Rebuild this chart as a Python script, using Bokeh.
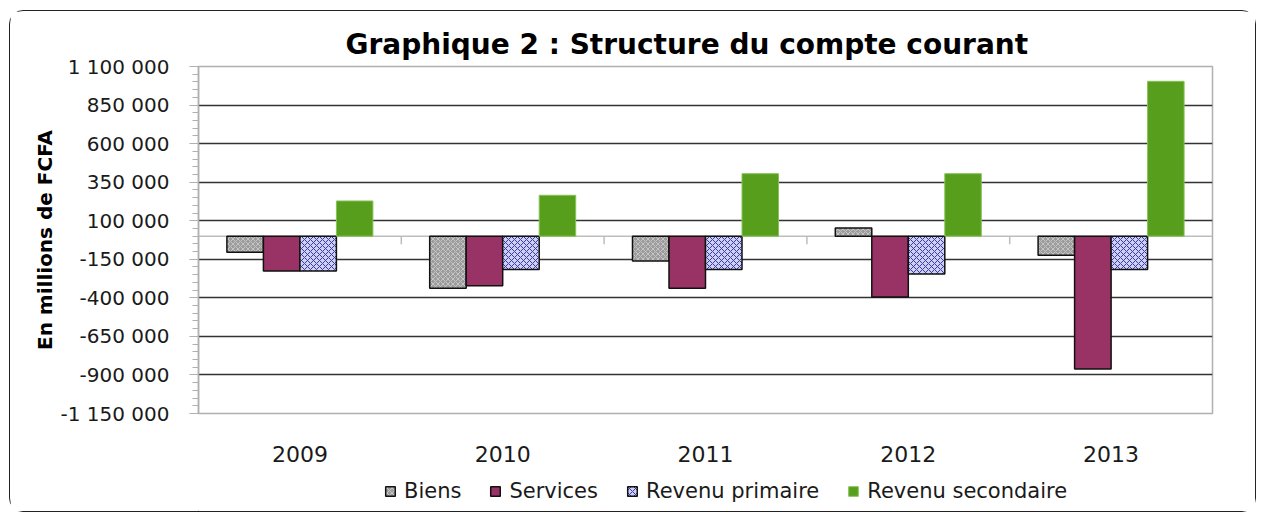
import math
from bokeh.plotting import figure
from bokeh.layouts import column
from bokeh.models import (FactorRange, Range1d, FixedTicker, Legend, LegendItem,
                          ColumnDataSource, Span)
from bokeh.transform import dodge
from bokeh.embed import file_html
from bokeh.resources import INLINE

# ---------------- data ----------------
years = ["2009", "2010", "2011", "2012", "2013"]
biens = [-105000, -338000, -161000, 53000, -124000]
services = [-226000, -321000, -338000, -394000, -861000]
revenu_primaire = [-226000, -217000, -217000, -245000, -217000]
revenu_secondaire = [228000, 265000, 405000, 405000, 1004000]
series_names = ["Biens", "Services", "Revenu primaire", "Revenu secondaire"]
y_ticks = [-1150000, -900000, -650000, -400000, -150000, 100000, 350000, 600000, 850000, 1100000]
y_tick_labels = ["-1 150 000", "-900 000", "-650 000", "-400 000", "-150 000",
                 "100 000", "350 000", "600 000", "850 000", "1 100 000"]
title_text = "Graphique 2 : Structure du compte courant"
y_label = "En millions de FCFA"

FONT = "DejaVu Sans"

# bar styles (one per series)
styles = [
    dict(fill_color="#9c9c9c", line_color="#111111", line_width=1.5,
         hatch_pattern="diagonal_cross", hatch_color="#cfcfcf", hatch_scale=5,
         hatch_weight=1, hatch_alpha=0.8),
    dict(fill_color="#993366", line_color="#111111", line_width=1.5),
    dict(fill_color="#cdd0f0", line_color="#111111", line_width=1.5,
         hatch_pattern="diagonal_cross", hatch_color="#3a3aa8", hatch_scale=6,
         hatch_weight=1),
    dict(fill_color="#569e1c", line_color="#86c257", line_width=1),
]

src = ColumnDataSource(dict(years=years, biens=biens, services=services,
                            rp=revenu_primaire, rs=revenu_secondaire))

p = figure(x_range=FactorRange(factors=years, range_padding=0, factor_padding=0),
           y_range=Range1d(y_ticks[0], y_ticks[-1]),
           width=1245, height=460, output_backend="svg", toolbar_location=None,
           min_border_left=188, min_border_right=43, min_border_top=55, min_border_bottom=58,
           title=title_text)

p.title.text_font = FONT
p.title.text_font_style = "bold"
p.title.text_font_size = "28px"
p.title.text_color = "#000000"
p.title.align = "left"
p.title.offset = 147
p.title.standoff = 12

p.outline_line_color = "#b0b0b0"
p.outline_line_width = 1.5
p.xgrid.grid_line_color = None
p.ygrid.ticker = FixedTicker(ticks=y_ticks[1:-1])
p.ygrid.grid_line_color = "#333333"
p.ygrid.grid_line_width = 1.5

# y axis
yax = p.yaxis[0]
yax.ticker = FixedTicker(ticks=y_ticks,
                         minor_ticks=list(range(y_ticks[0], y_ticks[-1] + 1, 50000)))
yax.major_label_overrides = {t: l for t, l in zip(y_ticks, y_tick_labels)}
yax.axis_line_color = "#b0b0b0"
yax.axis_line_width = 1.5
yax.major_tick_line_color = "#b0b0b0"
yax.minor_tick_line_color = "#b0b0b0"
yax.major_tick_in = 0
yax.major_tick_out = 9
yax.minor_tick_in = 0
yax.minor_tick_out = 6
yax.major_label_standoff = 20
yax.major_label_text_font = FONT
yax.major_label_text_font_size = "20px"
yax.major_label_text_color = "#1a1a1a"
yax.axis_label = y_label
yax.axis_label_text_font = FONT
yax.axis_label_text_font_style = "bold"
yax.axis_label_text_font_size = "20px"
yax.axis_label_text_color = "#000000"
yax.axis_label_standoff = 0

# x axis (labels only)
xax = p.xaxis[0]
xax.axis_line_color = None
xax.major_tick_line_color = None
xax.minor_tick_line_color = None
xax.major_label_standoff = 26
xax.major_label_text_font = FONT
xax.major_label_text_font_size = "22px"
xax.major_label_text_color = "#1a1a1a"

# zero line with category separator ticks
p.add_layout(Span(location=0, dimension="width", line_color="#bdbdbd", line_width=1.5,
                  level="underlay"))
sep_src = ColumnDataSource(dict(years=years[:-1], zero=[0] * (len(years) - 1)))
p.ray(x=dodge("years", 0.5, range=p.x_range), y="zero", length=8, length_units="screen",
      angle=-math.pi / 2, source=sep_src, line_color="#bdbdbd", line_width=1.5)

W = 0.18
cols = ["biens", "services", "rp", "rs"]
offsets = [-1.5 * W, -0.5 * W, 0.5 * W, 1.5 * W]
for c, off, st in zip(cols, offsets, styles):
    p.vbar(x=dodge("years", off, range=p.x_range), top=c, width=W, source=src, **st)

# legend strip below the chart (its frame is aligned with the main frame by the column)
leg_fig = figure(width=1245, height=40, output_backend="svg", toolbar_location=None,
                 x_range=Range1d(0, 1), y_range=Range1d(0, 1),
                 x_axis_location=None, y_axis_location=None, min_border=0)
leg_fig.grid.visible = False
leg_fig.outline_line_color = None
# legend proxies: a single zero-height bar kept outside the visible range
proxy = ColumnDataSource(dict(x=[-5], top=[0]))
leg_renderers = [leg_fig.vbar(x="x", top="top", width=0.1, source=proxy, **st) for st in styles]
legend = Legend(items=[LegendItem(label=n, renderers=[r]) for n, r in
                       zip(series_names, leg_renderers)],
                orientation="horizontal", location=(186, 8),
                label_text_font=FONT, label_text_font_size="21px", label_text_color="#1a1a1a",
                glyph_width=12, glyph_height=12, label_standoff=8, spacing=28,
                padding=0, margin=0, border_line_color=None, background_fill_alpha=0)
leg_fig.add_layout(legend, "center")

layout = column(p, leg_fig, spacing=0)
layout.styles = {"border": "1px solid #222222", "border-radius": "14px",
                 "margin-left": "9px", "margin-top": "10px"}

open("out.html", "w").write(file_html(layout, INLINE))
